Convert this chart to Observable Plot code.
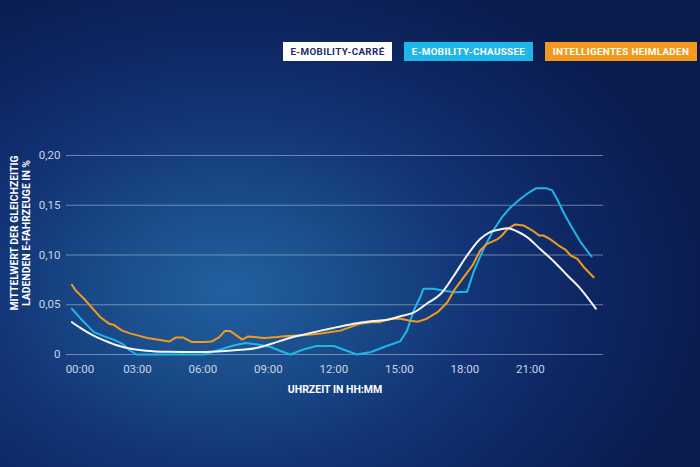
<!DOCTYPE html>
<html>
<head>
<meta charset="utf-8">
<script src="https://cdn.jsdelivr.net/npm/d3@7"></script>
<script src="https://cdn.jsdelivr.net/npm/@observablehq/plot@0.6"></script>
<style>
  html, body { margin: 0; padding: 0; }
  body { width: 700px; height: 467px; overflow: hidden; }
  #wrap {
    position: relative; width: 700px; height: 467px;
    background: radial-gradient(ellipse 70% 75% at 33% 62%, #22609f 0%, #1a4c8a 25%, #123476 50%, #0d2560 75%, #0a1b4c 100%);
    font-family: Roboto, "DejaVu Sans", sans-serif;
  }
  #legend { position: absolute; top: 42px; left: 0; width: 700px; height: 19px; }
  .key {
    position: absolute; top: 0; height: 19px; line-height: 19px;
    font-weight: 700; font-size: 9.8px; letter-spacing: 0.35px; text-align: center;
  }
  #chart { position: absolute; left: 0; top: 0; }
</style>
</head>
<body>
<div id="wrap">
  <div id="chart"></div>
  <div id="legend"></div>
</div>
<script>
// ---- data (hours of day, mean share of simultaneously charging EVs in %) ----
const seriesNames = ["E-MOBILITY-CARRÉ", "E-MOBILITY-CHAUSSEE", "INTELLIGENTES HEIMLADEN"];
const seriesColors = ["#f4f6fa", "#1fb7e8", "#f39a1e"];

const carreHours = [0,0.4,0.9,1.5,2.1,2.7,3.4,4.4,5.6,6.65,7.7,8.5,9.1,9.85,10.6,11.4,12.15,12.9,13.7,14.45,15.05,15.65,16.25,16.9,17.5,18.1,18.7,19.15,19.6,19.95,20.4,20.85,21.45,22.1,22.7,23.3,24.0];
const carreValues = [0.0325,0.0265,0.020,0.014,0.009,0.0058,0.0038,0.0027,0.0024,0.003,0.0047,0.0067,0.0105,0.0158,0.020,0.024,0.0275,0.031,0.0335,0.035,0.0385,0.042,0.051,0.061,0.0794,0.0995,0.116,0.123,0.1256,0.127,0.1236,0.118,0.106,0.093,0.0794,0.066,0.046];

const chausseeHours = [0,0.4,1.0,1.45,1.9,2.3,2.6,2.95,6.05,6.65,7.4,7.95,8.5,9.1,9.55,10.0,10.6,11.2,12.0,12.55,13.05,13.7,14.3,15.05,15.35,15.65,15.95,16.1,16.55,17.05,17.55,18.1,18.4,18.85,19.3,19.7,20.1,20.55,20.95,21.25,21.75,22.0,22.25,22.55,22.85,23.3,23.8];
const chausseeValues = [0.046,0.036,0.0225,0.0185,0.015,0.011,0.005,0,0,0.004,0.009,0.0115,0.010,0.0075,0.0035,0,0.005,0.0085,0.0085,0.004,0,0.0025,0.0075,0.0135,0.024,0.044,0.0575,0.066,0.066,0.064,0.0626,0.063,0.083,0.106,0.1246,0.138,0.148,0.1565,0.163,0.167,0.167,0.165,0.155,0.1414,0.1296,0.113,0.0985];

const heimHours = [0,0.15,0.55,0.9,1.3,1.7,1.9,2.3,2.7,3.05,3.45,3.9,4.45,4.75,5.1,5.5,6.05,6.4,6.75,7.0,7.25,7.55,7.8,8.05,8.35,8.8,9.4,9.85,10.45,10.95,11.4,11.85,12.3,12.75,13.2,13.7,14.1,14.6,15.05,15.5,15.85,16.25,16.75,17.2,17.55,17.95,18.35,18.7,19.0,19.5,19.7,19.95,20.3,20.7,21.1,21.4,21.6,21.9,22.3,22.6,22.85,23.15,23.45,23.9];
const heimValues = [0.070,0.065,0.056,0.0475,0.0375,0.031,0.030,0.024,0.021,0.019,0.0165,0.015,0.013,0.017,0.017,0.0125,0.0125,0.013,0.0175,0.0235,0.0235,0.019,0.015,0.018,0.0175,0.0167,0.0175,0.0185,0.019,0.020,0.021,0.0225,0.024,0.0275,0.031,0.0325,0.0325,0.036,0.036,0.034,0.033,0.036,0.0425,0.0525,0.066,0.0777,0.0895,0.1045,0.111,0.116,0.1196,0.126,0.1307,0.1296,0.1246,0.1196,0.1196,0.116,0.1095,0.1055,0.0995,0.096,0.0877,0.0777];

const yTicks = [0, 0.05, 0.10, 0.15, 0.20];
const xTicks = [0, 3, 6, 9, 12, 15, 18, 21];
const xTitle = "UHRZEIT IN HH:MM";
const yTitle = "MITTELWERT DER GLEICHZEITIG\nLADENDEN E-FAHRZEUGE IN %";

// ---- build tables ----
const toRows = (hours, values) => hours.map((h, i) => ({h, v: values[i]}));
const carre = toRows(carreHours, carreValues);
const chaussee = toRows(chausseeHours, chausseeValues);
const heim = toRows(heimHours, heimValues);

const fmtY = d => d === 0 ? "0" : d.toFixed(2).replace(".", ",");
const fmtX = h => String(h).padStart(2, "0") + ":00";

const labelColor = "#ccd4e4";

const chart = Plot.plot({
  width: 700,
  height: 467,
  marginLeft: 66,
  marginRight: 97,
  marginTop: 155,
  marginBottom: 113,
  style: {background: "transparent", fontFamily: "Roboto, 'DejaVu Sans', sans-serif"},
  x: {domain: [-0.25, 24.35], axis: null},
  y: {domain: [0, 0.2], axis: null},
  marks: [
    Plot.ruleY(yTicks, {stroke: "#b9c4d8", strokeOpacity: 0.55, strokeWidth: 1.2}),
    Plot.text(yTicks, {x: -0.25, y: d => d, text: fmtY, textAnchor: "end", dx: -6, fill: labelColor, fontSize: 11.5}),
    Plot.text(xTicks.slice(0, 1), {x: d => d, y: 0, text: fmtX, dx: 8, dy: 15, fill: labelColor, fontSize: 11.5}),
    Plot.text(xTicks.slice(1), {x: d => d, y: 0, text: fmtX, dy: 15, fill: labelColor, fontSize: 11.5}),
    Plot.text([xTitle], {frameAnchor: "bottom", text: d => d, dy: 38, fill: "#ffffff", fontSize: 10.5, fontWeight: 700, style: "letter-spacing:0.3px"}),
    Plot.text([yTitle], {frameAnchor: "left", text: d => d, rotate: -90, textAnchor: "middle", dx: -46, dy: -22, fill: "#ffffff", fontSize: 10.4, fontWeight: 700, lineHeight: 1.1, lineAnchor: "middle"}),
    Plot.line(chaussee, {x: "h", y: "v", stroke: seriesColors[1], strokeWidth: 2}),
    Plot.line(heim, {x: "h", y: "v", stroke: seriesColors[2], strokeWidth: 2}),
    Plot.line(carre, {x: "h", y: "v", stroke: seriesColors[0], strokeWidth: 2, curve: "monotone-x"})
  ]
});
document.getElementById("chart").appendChild(chart);

// ---- legend ----
const legendBoxes = [
  {left: 283, width: 109, text: "#1c2a6e"},
  {left: 404, width: 129, text: "#ffffff"},
  {left: 545, width: 152, text: "#ffffff"}
];
const legend = document.getElementById("legend");
seriesNames.forEach((name, i) => {
  const k = document.createElement("div");
  k.className = "key";
  k.textContent = name;
  k.style.left = legendBoxes[i].left + "px";
  k.style.width = legendBoxes[i].width + "px";
  k.style.background = seriesColors[i] === "#f4f6fa" ? "#ffffff" : seriesColors[i];
  k.style.color = legendBoxes[i].text;
  legend.appendChild(k);
});
</script>
</body>
</html>
